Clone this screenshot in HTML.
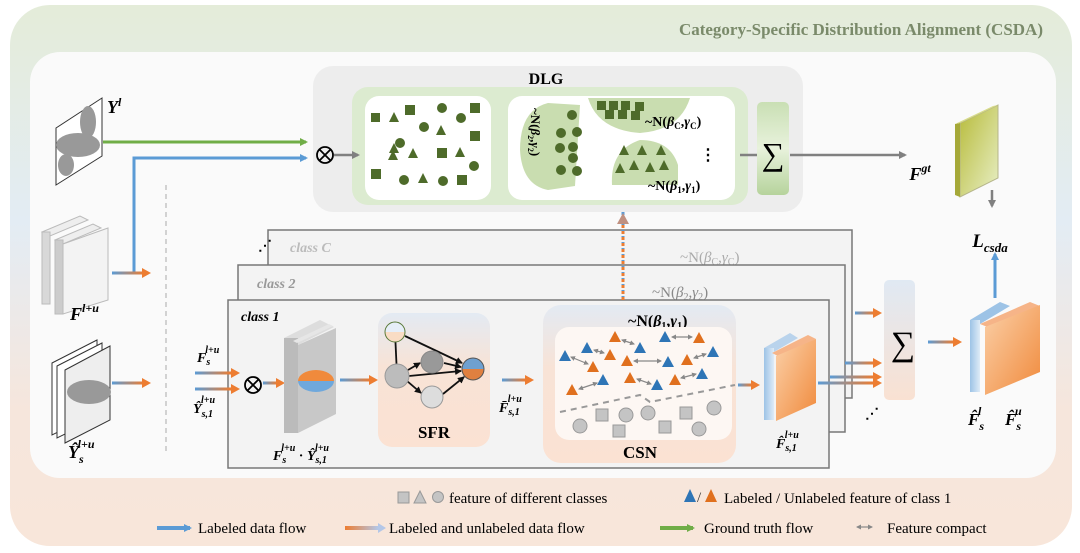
<!DOCTYPE html>
<html><head><meta charset="utf-8"><style>
html,body{margin:0;padding:0;background:#fff;}
svg{display:block;font-family:"Liberation Serif",serif;}
</style></head><body>
<svg width="1080" height="553" viewBox="0 0 1080 553" xmlns="http://www.w3.org/2000/svg">
<defs>
<linearGradient id="bg" x1="0" y1="0" x2="0" y2="1">
<stop offset="0" stop-color="#e4ecd9"/><stop offset="0.4" stop-color="#e3ecf4"/><stop offset="0.75" stop-color="#f6e6dc"/><stop offset="1" stop-color="#f8e6da"/></linearGradient>
<linearGradient id="bo" x1="0" y1="0" x2="1" y2="0"><stop offset="0" stop-color="#5b9bd5"/><stop offset="1" stop-color="#ed7d31"/></linearGradient>
<linearGradient id="ob" x1="0" y1="0" x2="1" y2="0"><stop offset="0" stop-color="#ed7d31"/><stop offset="1" stop-color="#b4c7e7"/></linearGradient>
<linearGradient id="sfr" x1="0" y1="0" x2="0" y2="1"><stop offset="0" stop-color="#e3eaf3"/><stop offset="0.4" stop-color="#f8e3d6"/><stop offset="1" stop-color="#fbe2d3"/></linearGradient>
<linearGradient id="sig" x1="0" y1="0" x2="0" y2="1"><stop offset="0" stop-color="#c9dfb4"/><stop offset="0.5" stop-color="#e8f2dc"/><stop offset="1" stop-color="#b6d39c"/></linearGradient>
<linearGradient id="sig2" x1="0" y1="0" x2="0" y2="1"><stop offset="0" stop-color="#e0e9f3"/><stop offset="1" stop-color="#f9e1d2"/></linearGradient>
<linearGradient id="gt" x1="0" y1="0" x2="1" y2="1"><stop offset="0" stop-color="#b7bb3a"/><stop offset="1" stop-color="#e8efc6"/></linearGradient>
<linearGradient id="or" x1="0" y1="0" x2="1" y2="1"><stop offset="0" stop-color="#fbd0a8"/><stop offset="1" stop-color="#f08a3c"/></linearGradient>
<linearGradient id="bl" x1="0" y1="0" x2="1" y2="0"><stop offset="0" stop-color="#9dc3e6"/><stop offset="1" stop-color="#deebf7"/></linearGradient>
<linearGradient id="ell" x1="0" y1="0" x2="0" y2="1"><stop offset="0.5" stop-color="#f08a3c"/><stop offset="0.5" stop-color="#6fa8dc"/></linearGradient>
<linearGradient id="nd" x1="0" y1="0" x2="0" y2="1"><stop offset="0.5" stop-color="#6fa0d0"/><stop offset="0.5" stop-color="#e08040"/></linearGradient>
<linearGradient id="nt" x1="0" y1="0" x2="0" y2="1"><stop offset="0.5" stop-color="#e6eef8"/><stop offset="0.5" stop-color="#f9dcc4"/></linearGradient>
<marker id="ab" markerWidth="8" markerHeight="8" refX="6" refY="4" orient="auto" markerUnits="userSpaceOnUse"><path d="M0,0 L8,4 L0,8 z" fill="#5b9bd5"/></marker>
<marker id="ag" markerWidth="8" markerHeight="8" refX="6" refY="4" orient="auto" markerUnits="userSpaceOnUse"><path d="M0,0 L8,4 L0,8 z" fill="#70ad47"/></marker>
<marker id="agr" markerWidth="8" markerHeight="8" refX="6" refY="4" orient="auto" markerUnits="userSpaceOnUse"><path d="M0,0 L8,4 L0,8 z" fill="#808080"/></marker>
<marker id="ak" markerWidth="7" markerHeight="7" refX="6" refY="3.5" orient="auto" markerUnits="userSpaceOnUse"><path d="M0,0 L7,3.5 L0,7 z" fill="#111"/></marker>
<marker id="sg" markerWidth="5" markerHeight="5" refX="4" refY="2.5" orient="auto-start-reverse" markerUnits="userSpaceOnUse"><path d="M0,0 L5,2.5 L0,5 z" fill="#888"/></marker>
</defs>
<rect x="10" y="5" width="1062" height="541" rx="40" fill="url(#bg)"/>
<text x="1043" y="35" text-anchor="end" font-size="17" font-weight="bold" fill="#7a8a6a">Category-Specific Distribution Alignment (CSDA)</text>
<rect x="30" y="52" width="1026" height="426" rx="30" fill="#fafafa"/>
<!-- DLG -->
<rect x="313" y="66" width="490" height="146" rx="20" fill="#ededed"/>
<text x="546" y="84" text-anchor="middle" font-size="16" font-weight="bold">DLG</text>
<rect x="352" y="87" width="396" height="118" rx="16" fill="#dcebd0"/>
<rect x="365" y="96" width="126" height="104" rx="14" fill="#fff"/>
<rect x="508" y="96" width="227" height="104" rx="14" fill="#fff"/>
<g fill="#4e6b2a">
<rect x="371" y="113" width="9" height="9"/><polygon points="394,112 389,122 399,122"/><rect x="405" y="105" width="10" height="10"/><circle cx="424" cy="127" r="5"/><circle cx="442" cy="108" r="5"/><polygon points="441,125 436,135 446,135"/><circle cx="461" cy="118" r="5"/><rect x="470" y="103" width="10" height="10"/><rect x="470" y="131" width="10" height="10"/>
<polygon points="394,143 389,153 399,153"/><circle cx="400" cy="143" r="5"/><polygon points="393,150 388,160 398,160"/><polygon points="413,148 408,158 418,158"/><rect x="437" y="148" width="10" height="10"/><polygon points="460,147 455,157 465,157"/><circle cx="474" cy="166" r="5"/>
<rect x="371" y="169" width="10" height="10"/><circle cx="404" cy="180" r="5"/><polygon points="423,173 418,183 428,183"/><circle cx="443" cy="181" r="5"/><rect x="457" y="175" width="10" height="10"/>
</g>
<path d="M548,103 Q520,110 520,150 Q522,185 548,190 L575,186 L580,105 Z" fill="#c9ddb0"/>
<path d="M588,98 L690,98 Q680,130 640,133 Q598,130 588,98 Z" fill="#c9ddb0"/>
<path d="M612,185 Q610,150 640,140 Q670,140 678,165 L678,185 Z" fill="#c9ddb0"/>
<g fill="#4e6b2a">
<circle cx="572" cy="115" r="5"/><circle cx="561" cy="133" r="5"/><circle cx="577" cy="132" r="5"/><circle cx="573" cy="147" r="5"/><circle cx="560" cy="148" r="5"/><circle cx="573" cy="158" r="5"/><circle cx="561" cy="170" r="5"/><circle cx="577" cy="171" r="5"/>
<rect x="597" y="101" width="9" height="9"/><rect x="609" y="101" width="9" height="9"/><rect x="621" y="101" width="9" height="9"/><rect x="635" y="102" width="9" height="9"/><rect x="605" y="110" width="9" height="9"/><rect x="618" y="110" width="9" height="9"/><rect x="631" y="111" width="9" height="9"/>
<polygon points="624,145 619,155 629,155"/><polygon points="642,145 637,155 647,155"/><polygon points="661,145 656,155 666,155"/><polygon points="620,163 615,173 625,173"/><polygon points="634,160 629,170 639,170"/><polygon points="650,162 645,172 655,172"/><polygon points="664,160 659,170 669,170"/>
</g>
<text x="645" y="126" font-size="14" font-weight="bold">~N(<tspan font-style="italic">β</tspan><tspan font-size="9" dy="3">C</tspan><tspan dy="-3">,</tspan><tspan font-style="italic">γ</tspan><tspan font-size="9" dy="3">C</tspan><tspan dy="-3">)</tspan></text>
<text x="648" y="190" font-size="14" font-weight="bold">~N(<tspan font-style="italic">β</tspan><tspan font-size="9" dy="3">1</tspan><tspan dy="-3">,</tspan><tspan font-style="italic">γ</tspan><tspan font-size="9" dy="3">1</tspan><tspan dy="-3">)</tspan></text>
<text transform="translate(531,108) rotate(90)" font-size="13" font-weight="bold">~N(<tspan font-style="italic">β</tspan><tspan font-size="8" dy="3">2</tspan><tspan dy="-3">,</tspan><tspan font-style="italic">γ</tspan><tspan font-size="8" dy="3">2</tspan><tspan dy="-3">)</tspan></text>
<text x="708" y="160" font-size="16" font-weight="bold" text-anchor="middle">⋮</text>
<rect x="757" y="102" width="32" height="93" rx="5" fill="url(#sig)"/>
<text x="773" y="165" font-size="32" text-anchor="middle">∑</text>
<line x1="740" y1="155" x2="757" y2="155" stroke="#808080" stroke-width="2.5"/>
<line x1="790" y1="155" x2="905" y2="155" stroke="#808080" stroke-width="2.5" marker-end="url(#agr)"/>
<!-- Otimes -->
<circle cx="325" cy="155" r="8" fill="none" stroke="#000" stroke-width="1.8"/>
<path d="M319.5,149.5 L330.5,160.5 M330.5,149.5 L319.5,160.5" stroke="#000" stroke-width="1.8"/>
<line x1="334" y1="155" x2="358" y2="155" stroke="#808080" stroke-width="2.5" marker-end="url(#agr)"/>
<!-- Y^l -->
<polygon points="56,128 102,98 102,156 56,185" fill="#fff" stroke="#333" stroke-width="1"/>
<ellipse cx="88" cy="122" rx="8" ry="16" fill="#999"/><ellipse cx="78" cy="145" rx="22" ry="12" fill="#999"/><ellipse cx="66" cy="165" rx="8" ry="11" fill="#999"/>
<text x="107" y="113" font-size="18" font-weight="bold" font-style="italic">Y<tspan font-size="12" dy="-7">l</tspan></text>
<line x1="103" y1="142" x2="306" y2="142" stroke="#70ad47" stroke-width="3" marker-end="url(#ag)"/>
<polyline points="134,273 134,158 306,158" fill="none" stroke="#5b9bd5" stroke-width="3" marker-end="url(#ab)"/>
<!-- F^{l+u} -->
<polygon points="42,232 80,216 88,220 50,236" fill="#eee" stroke="#bbb"/><rect x="42" y="232" width="8" height="72" fill="#d8d8d8" stroke="#bbb"/>
<polygon points="55,240 93,224 101,228 63,244" fill="#eee" stroke="#bbb"/><rect x="55" y="240" width="8" height="74" fill="#ccc" stroke="#bbb"/>
<polygon points="63,244 108,228 108,300 63,314" fill="#f3f3f3" stroke="#bbb"/>
<text x="70" y="320" font-size="18" font-weight="bold" font-style="italic">F<tspan font-size="12" dy="-8">l+u</tspan></text>
<rect x="112" y="271.5" width="32" height="3" fill="url(#bo)"/><polygon points="142,268 151,273 142,278" fill="#ed7d31"/>
<!-- Y_s hat -->
<polygon points="52,363 97,340 97,413 52,435" fill="#fff" stroke="#333" stroke-width="1"/>
<polygon points="57,366 102,343 102,416 57,438" fill="#fff" stroke="#333" stroke-width="1"/>
<polygon points="65,370 110,346 110,420 65,443" fill="#eee" stroke="#333" stroke-width="1"/>
<ellipse cx="89" cy="392" rx="22" ry="12" fill="#999"/>
<text x="68" y="458" font-size="18" font-weight="bold" font-style="italic">Ŷ<tspan font-size="12" dy="5">s</tspan><tspan font-size="12" dx="-6" dy="-15">l+u</tspan></text>
<rect x="112" y="381.5" width="32" height="3" fill="url(#bo)"/><polygon points="142,378 151,383 142,388" fill="#ed7d31"/>
<line x1="166" y1="185" x2="166" y2="455" stroke="#aaa" stroke-width="1" stroke-dasharray="5,4"/>
<!-- class boxes -->
<rect x="268" y="230" width="584" height="168" fill="#f3f3f3" stroke="#777" stroke-width="1.5"/>
<text x="290" y="252" font-size="14" font-weight="bold" font-style="italic" fill="#bbb">class C</text>
<text x="258" y="250" font-size="14" font-weight="bold">⋰</text>
<text x="680" y="262" font-size="15" fill="#aaa">~N(<tspan font-style="italic">β</tspan><tspan font-size="10" dy="3">C</tspan><tspan dy="-3">,</tspan><tspan font-style="italic">γ</tspan><tspan font-size="10" dy="3">C</tspan><tspan dy="-3">)</tspan></text>
<rect x="238" y="265" width="607" height="167" fill="#f3f3f3" stroke="#777" stroke-width="1.5"/>
<text x="257" y="288" font-size="14" font-weight="bold" font-style="italic" fill="#999">class 2</text>
<text x="652" y="297" font-size="15" fill="#888">~N(<tspan font-style="italic">β</tspan><tspan font-size="10" dy="3">2</tspan><tspan dy="-3">,</tspan><tspan font-style="italic">γ</tspan><tspan font-size="10" dy="3">2</tspan><tspan dy="-3">)</tspan></text>
<line x1="623" y1="212" x2="623" y2="300" stroke="#5b9bd5" stroke-width="3" stroke-dasharray="3,3"/>
<rect x="228" y="300" width="601" height="168" fill="#f3f3f3" stroke="#777" stroke-width="1.5"/>
<text x="241" y="321" font-size="14" font-weight="bold" font-style="italic">class 1</text>
<line x1="623" y1="300" x2="623" y2="222" stroke="#ed7d31" stroke-width="3" stroke-dasharray="3,3"/>
<path d="M617,224 L623,213 L629,224 z" fill="#c09080"/>
<!-- inputs -->
<text x="197" y="362" font-size="14" font-weight="bold" font-style="italic">F<tspan font-size="10" dy="3">s</tspan><tspan font-size="10" dx="-5" dy="-12">l+u</tspan></text>
<text x="193" y="413" font-size="14" font-weight="bold" font-style="italic">Ŷ<tspan font-size="10" dy="4">s,1</tspan><tspan font-size="10" dx="-12" dy="-14">l+u</tspan></text>
<rect x="195" y="371.5" width="36" height="3" fill="url(#bo)"/><polygon points="231,368 240,373 231,378" fill="#ed7d31"/>
<rect x="195" y="387.5" width="36" height="3" fill="url(#bo)"/><polygon points="231,384 240,389 231,394" fill="#ed7d31"/>
<circle cx="253" cy="385" r="8" fill="none" stroke="#000" stroke-width="1.8"/>
<path d="M247.5,379.5 L258.5,390.5 M258.5,379.5 L247.5,390.5" stroke="#000" stroke-width="1.8"/>
<rect x="263" y="381.5" width="14" height="3" fill="url(#bo)"/><polygon points="276,378 285,383 276,388" fill="#ed7d31"/>
<!-- masked feature block -->
<polygon points="284,338 320,320 334,327 298,345" fill="#ddd"/>
<rect x="284" y="338" width="14" height="95" fill="#bbb"/>
<polygon points="298,345 336,328 336,414 298,433" fill="#c8c8c8"/>
<polygon points="293,341 329,324 333,326 297,343" fill="#e6e6e6"/>
<ellipse cx="316" cy="381" rx="18" ry="11" fill="url(#ell)"/>
<text x="273" y="460" font-size="14" font-weight="bold" font-style="italic">F<tspan font-size="10" dy="3">s</tspan><tspan font-size="10" dx="-5" dy="-12">l+u</tspan><tspan dy="9" font-style="normal"> · </tspan>Ŷ<tspan font-size="10" dy="3">s,1</tspan><tspan font-size="10" dx="-12" dy="-12">l+u</tspan></text>
<rect x="340" y="378.5" width="30" height="3" fill="url(#bo)"/><polygon points="369,375 378,380 369,385" fill="#ed7d31"/>
<!-- SFR -->
<rect x="378" y="313" width="112" height="134" rx="14" fill="url(#sfr)"/>
<g stroke="#111" stroke-width="1.8">
<line x1="395" y1="332" x2="397" y2="375"/>
<line x1="405" y1="336" x2="462" y2="363" marker-end="url(#ak)"/>
<line x1="408" y1="370" x2="420" y2="363" marker-end="url(#ak)"/>
<line x1="444" y1="363" x2="461" y2="367" marker-end="url(#ak)"/>
<line x1="409" y1="376" x2="461" y2="371" marker-end="url(#ak)"/>
<line x1="407" y1="381" x2="421" y2="393" marker-end="url(#ak)"/>
<line x1="443" y1="394" x2="464" y2="377" marker-end="url(#ak)"/>
</g>
<circle cx="395" cy="332" r="10" fill="url(#nt)" stroke="#5a7a3a"/>
<circle cx="397" cy="376" r="12" fill="#bcbcbc" stroke="#999"/>
<circle cx="432" cy="362" r="11" fill="#999" stroke="#888"/>
<circle cx="432" cy="397" r="11" fill="#ddd" stroke="#999"/>
<circle cx="473" cy="369" r="11" fill="url(#nd)" stroke="#555"/>
<text x="434" y="438" font-size="17" font-weight="bold" text-anchor="middle">SFR</text>
<rect x="502" y="378.5" width="24" height="3" fill="url(#bo)"/><polygon points="525,375 534,380 525,385" fill="#ed7d31"/>
<text x="499" y="412" font-size="14" font-weight="bold" font-style="italic">F̄<tspan font-size="10" dy="3">s,1</tspan><tspan font-size="10" dx="-12" dy="-13">l+u</tspan></text>
<!-- CSN -->
<rect x="543" y="305" width="193" height="158" rx="18" fill="url(#sfr)"/>
<text x="628" y="326" font-size="16" font-weight="bold">~N(<tspan font-style="italic">β</tspan><tspan font-size="10" dy="3">1</tspan><tspan dy="-3">,</tspan><tspan font-style="italic">γ</tspan><tspan font-size="10" dy="3">1</tspan><tspan dy="-3">)</tspan></text>
<rect x="555" y="327" width="177" height="113" rx="14" fill="#fdf7f3"/>
<g stroke="#888" stroke-width="1.2" marker-start="url(#sg)" marker-end="url(#sg)">
<line x1="672" y1="337" x2="692" y2="337"/><line x1="622" y1="340" x2="634" y2="344"/><line x1="571" y1="357" x2="588" y2="364"/><line x1="594" y1="350" x2="604" y2="353"/>
<line x1="634" y1="361" x2="661" y2="361"/><line x1="694" y1="358" x2="706" y2="354"/><line x1="579" y1="389" x2="597" y2="383"/><line x1="637" y1="379" x2="651" y2="384"/><line x1="681" y1="378" x2="696" y2="374"/>
</g>
<g fill="#e0701e">
<polygon points="615,331 609,342 621,342"/><polygon points="699,332 693,343 705,343"/><polygon points="610,349 604,360 616,360"/><polygon points="627,355 621,366 633,366"/><polygon points="593,361 587,372 599,372"/><polygon points="687,354 681,365 693,365"/><polygon points="630,372 624,383 636,383"/><polygon points="675,374 669,385 681,385"/><polygon points="572,384 566,395 578,395"/>
</g>
<g fill="#2e75b6">
<polygon points="665,331 659,342 671,342"/><polygon points="587,342 581,353 593,353"/><polygon points="565,350 559,361 571,361"/><polygon points="640,342 634,353 646,353"/><polygon points="668,356 662,367 674,367"/><polygon points="713,346 707,357 719,357"/><polygon points="603,374 597,385 609,385"/><polygon points="702,368 696,379 708,379"/><polygon points="657,379 651,390 663,390"/>
</g>
<polyline points="560,412 640,395 650,402 735,385" fill="none" stroke="#999" stroke-width="2" stroke-dasharray="6,5"/>
<g fill="#c4c4c4" stroke="#999">
<circle cx="580" cy="426" r="7"/><circle cx="626" cy="415" r="7"/><circle cx="648" cy="413" r="7"/><circle cx="699" cy="429" r="7"/><circle cx="714" cy="408" r="7"/>
<rect x="596" y="409" width="12" height="12"/><rect x="613" y="425" width="12" height="12"/><rect x="659" y="421" width="12" height="12"/><rect x="680" y="407" width="12" height="12"/>
</g>
<text x="640" y="458" font-size="17" font-weight="bold" text-anchor="middle">CSN</text>
<rect x="738" y="383.5" width="14" height="3" fill="url(#bo)"/><polygon points="751,380 760,385 751,390" fill="#ed7d31"/>
<!-- F hat s,1 -->
<polygon points="764,348 790,333 798,338 772,353" fill="#b9d3ec"/>
<rect x="764" y="348" width="10" height="72" fill="url(#bl)"/>
<polygon points="772,353 808,335 816,339 780,357" fill="#f6b488"/>
<polygon points="776,356 816,339 816,403 776,421" fill="url(#or)"/>
<text x="776" y="448" font-size="14" font-weight="bold" font-style="italic">F̂<tspan font-size="10" dy="3">s,1</tspan><tspan font-size="10" dx="-12" dy="-13">l+u</tspan></text>
<rect x="818" y="381.5" width="56" height="3" fill="url(#bo)"/><polygon points="873,378 882,383 873,388" fill="#ed7d31"/>
<rect x="855" y="311.5" width="19" height="3" fill="url(#bo)"/><polygon points="873,308 882,313 873,318" fill="#ed7d31"/>
<rect x="845" y="361.5" width="29" height="3" fill="url(#bo)"/><polygon points="873,358 882,363 873,368" fill="#ed7d31"/>
<rect x="830" y="375.5" width="44" height="3" fill="url(#bo)"/><polygon points="873,372 882,377 873,382" fill="#ed7d31"/>
<text x="883" y="340" font-size="16" font-weight="bold">⋮</text>
<text x="865" y="418" font-size="14" font-weight="bold">⋰</text>
<!-- Sigma2 -->
<rect x="884" y="280" width="31" height="120" rx="5" fill="url(#sig2)"/>
<text x="903" y="355" font-size="34" text-anchor="middle">∑</text>
<rect x="928" y="340.5" width="26" height="3" fill="url(#bo)"/><polygon points="953,337 962,342 953,347" fill="#ed7d31"/>
<!-- final F hats -->
<polygon points="970,320 1000,302 1010,306 980,324" fill="#9dc3e6"/>
<rect x="970" y="320" width="10" height="72" fill="url(#bl)"/>
<polygon points="980,324 1030,302 1040,306 990,328" fill="#f6b488"/>
<polygon points="985,327 1040,305 1040,372 985,395" fill="url(#or)"/>
<line x1="995" y1="298" x2="995" y2="254" stroke="#5b9bd5" stroke-width="3" marker-end="url(#ab)"/>
<text x="968" y="425" font-size="17" font-weight="bold" font-style="italic">F̂<tspan font-size="12" dy="5">s</tspan><tspan font-size="12" dx="-6" dy="-15">l</tspan></text>
<text x="1005" y="425" font-size="17" font-weight="bold" font-style="italic">F̂<tspan font-size="12" dy="5">s</tspan><tspan font-size="12" dx="-6" dy="-15">u</tspan></text>
<!-- Fgt -->
<polygon points="960,123 998,105 998,178 960,197" fill="url(#gt)" stroke="#b5b58a"/>
<polygon points="955,124 960,123 960,197 955,195" fill="#a5a838"/>
<polygon points="955,124 993,106 998,105 960,123" fill="#d9dd8a"/>
<text x="920" y="180" font-size="18" font-weight="bold" font-style="italic" text-anchor="middle">F<tspan font-size="12" dy="-8">gt</tspan></text>
<line x1="992" y1="190" x2="992" y2="206" stroke="#808080" stroke-width="2.5" marker-end="url(#agr)"/>
<text x="990" y="247" font-size="19" font-weight="bold" font-style="italic" text-anchor="middle">L<tspan font-size="13" dy="5">csda</tspan></text>
<!-- legend -->
<rect x="398" y="492" width="11" height="11" fill="#c4c4c4" stroke="#999"/>
<polygon points="420,491 414,503 426,503" fill="#c4c4c4" stroke="#999"/>
<circle cx="438" cy="497" r="5.5" fill="#c4c4c4" stroke="#999"/>
<text x="449" y="503" font-size="15">feature of different classes</text>
<polygon points="690,489 684,502 696,502" fill="#2e75b6"/>
<text x="697" y="502" font-size="15" fill="#333">/</text>
<polygon points="711,489 705,502 717,502" fill="#e0701e"/>
<text x="724" y="503" font-size="15">Labeled / Unlabeled  feature of class 1</text>
<line x1="157" y1="528" x2="190" y2="528" stroke="#5b9bd5" stroke-width="4" marker-end="url(#ab)"/>
<text x="198" y="533" font-size="15">Labeled data flow</text>
<rect x="345" y="526" width="33" height="4" fill="url(#ob)"/>
<path d="M378,523 L386,528 L378,533 z" fill="#b4c7e7"/>
<text x="389" y="533" font-size="15">Labeled and unlabeled data flow</text>
<line x1="660" y1="528" x2="693" y2="528" stroke="#70ad47" stroke-width="4" marker-end="url(#ag)"/>
<text x="704" y="533" font-size="15">Ground truth flow</text>
<line x1="857" y1="527" x2="872" y2="527" stroke="#888" stroke-width="1.2" marker-start="url(#sg)" marker-end="url(#sg)"/>
<text x="887" y="533" font-size="15">Feature compact</text>
</svg>
</body></html>
